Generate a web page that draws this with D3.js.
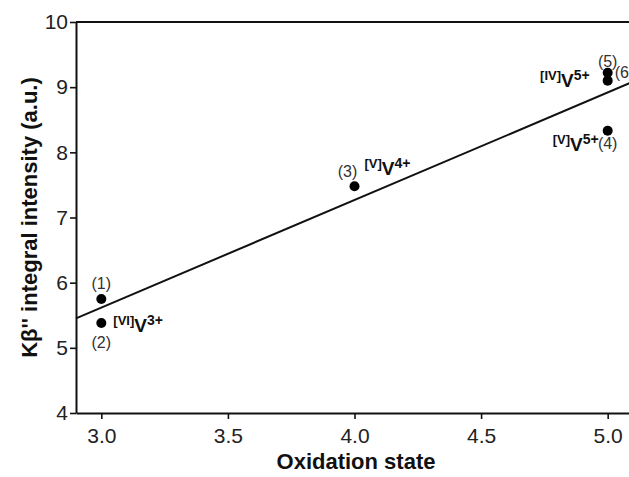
<!DOCTYPE html>
<html>
<head>
<meta charset="utf-8">
<script src="https://cdn.jsdelivr.net/npm/d3@7"></script>
<style>
  body { margin: 0; background: #fff; }
  svg { display: block; font-family: "Liberation Sans", Arial, sans-serif; }
</style>
</head>
<body>
<div id="chart"></div>
<script>
// data
var oxidation = [3.0, 3.0, 4.0, 5.0, 5.0, 5.0]
var intensity = [5.75, 5.38, 7.48, 8.33, 9.22, 9.10]
var pointIds = ["(1)", "(2)", "(3)", "(4)", "(5)", "(6)"]

// species labels: coordination site, charge, and which point they belong to
var speciesSite = ["VI", "V", "V", "IV"]
var speciesCharge = ["3+", "4+", "5+", "5+"]
var speciesPoint = [1, 2, 3, 4]

var xTicks = [3.0, 3.5, 4.0, 4.5, 5.0]
var yTicks = [4, 5, 6, 7, 8, 9, 10]

var width = 629
var height = 477
var margin = { left: 76, top: 22 }
var plotW = 557
var plotH = 391

var svg = d3.select("#chart")
    .append("svg")
    .attr("width", width)
    .attr("height", height)

var x = d3.scaleLinear().domain([2.9, 5.1]).range([margin.left, margin.left + plotW])
var y = d3.scaleLinear().domain([4, 10]).range([margin.top + plotH, margin.top])

// axes
var xAxis = svg.append("g")
    .attr("transform", "translate(0," + (margin.top + plotH) + ")")
    .call(d3.axisBottom(x).tickValues(xTicks).tickFormat(d3.format(".1f")).tickSize(6).tickSizeOuter(0))
var yAxis = svg.append("g")
    .attr("transform", "translate(" + margin.left + ",0)")
    .call(d3.axisLeft(y).tickValues(yTicks).tickFormat(d3.format("d")).tickSize(6).tickSizeOuter(0))

;[xAxis, yAxis].forEach(function (g) {
    g.select(".domain").attr("stroke", "#111").attr("stroke-width", 2)
    g.selectAll(".tick line").attr("stroke", "#111").attr("stroke-width", 1.6)
    g.selectAll(".tick text")
        .attr("fill", "#222")
        .style("font-size", "21px")
        .style("font-family", "'Liberation Sans', Arial, sans-serif")
})
xAxis.selectAll(".tick text").attr("dy", "1.0em")
yAxis.selectAll(".tick text").attr("x", -8)

// top frame line
svg.append("line")
    .attr("x1", x(2.9)).attr("x2", x(5.1))
    .attr("y1", y(10)).attr("y2", y(10))
    .attr("stroke", "#111").attr("stroke-width", 2)

// axis titles
svg.append("text")
    .attr("x", 356).attr("y", 469)
    .attr("text-anchor", "middle")
    .style("font-size", "22px").style("font-weight", "bold")
    .attr("fill", "#111")
    .text("Oxidation state")

svg.append("text")
    .attr("transform", "translate(37," + y(7) + ") rotate(-90)")
    .attr("text-anchor", "middle")
    .style("font-size", "22px").style("font-weight", "bold")
    .attr("fill", "#111")
    .text("K\u03b2'' integral intensity (a.u.)")

// least squares fit of the points
var mx = d3.mean(oxidation)
var my = d3.mean(intensity)
var sxy = d3.sum(oxidation, function (d, i) { return (d - mx) * (intensity[i] - my) })
var sxx = d3.sum(oxidation, function (d) { return (d - mx) * (d - mx) })
var slope = sxy / sxx
var icept = my - slope * mx
var fitX = x.domain()

svg.append("path")
    .datum(fitX)
    .attr("fill", "none")
    .attr("stroke", "#111")
    .attr("stroke-width", 2)
    .attr("d", d3.line().x(function (d) { return x(d) }).y(function (d) { return y(icept + slope * d) }))

// points
var pts = oxidation.map(function (d, i) { return { ox: d, val: intensity[i], id: pointIds[i] } })

svg.append("g")
    .selectAll("circle")
    .data(pts)
    .enter()
    .append("circle")
    .attr("cx", function (d) { return x(d.ox) })
    .attr("cy", function (d) { return y(d.val) })
    .attr("r", 5)
    .attr("fill", "#000")

// point numbers (offsets in px)
var idOffset = [[0, -10, "middle"], [0, 25, "middle"], [-7, -9, "middle"], [0, 18, "middle"], [0, -6, "middle"], [7, -3, "start"]]

svg.append("g")
    .selectAll("text")
    .data(pts)
    .enter()
    .append("text")
    .attr("x", function (d, i) { return x(d.ox) + idOffset[i][0] })
    .attr("y", function (d, i) { return y(d.val) + idOffset[i][1] })
    .attr("text-anchor", function (d, i) { return idOffset[i][2] })
    .attr("fill", "#333")
    .style("font-size", "16px")
    .text(function (d) { return d.id })

// species labels like [VI]V3+
var spOffset = [[12, 9, "start"], [10, -11, "start"], [-9, 20, "end"], [-18, 14, "end"]]

speciesSite.forEach(function (site, k) {
    var p = pts[speciesPoint[k]]
    var t = svg.append("text")
        .attr("x", x(p.ox) + spOffset[k][0])
        .attr("y", y(p.val) + spOffset[k][1])
        .attr("text-anchor", spOffset[k][2])
        .attr("fill", "#111")
        .style("font-weight", "bold")
    t.append("tspan").style("font-size", "13px").attr("dy", -7).text("[" + site + "]")
    t.append("tspan").style("font-size", "19px").attr("dy", 7).text("V")
    t.append("tspan").style("font-size", "14px").attr("dy", -7).text(speciesCharge[k])
})
</script>
</body>
</html>
